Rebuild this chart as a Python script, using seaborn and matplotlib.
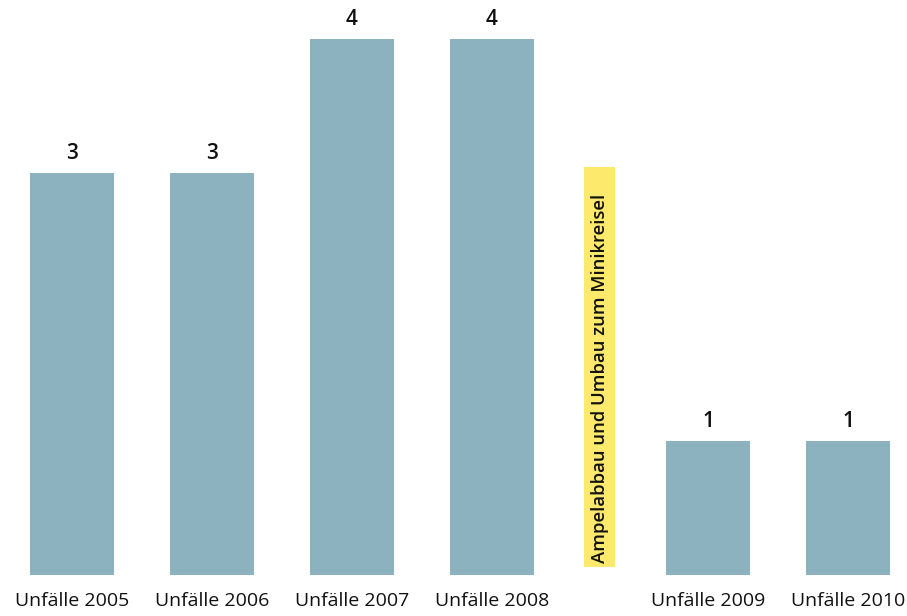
import matplotlib
matplotlib.use("Agg")
import matplotlib.pyplot as plt
import seaborn as sns
import pandas as pd
from matplotlib.patches import Rectangle

categories = ["Unfälle 2005", "Unfälle 2006", "Unfälle 2007", "Unfälle 2008", "Unfälle 2009", "Unfälle 2010"]
values = [3, 3, 4, 4, 1, 1]
note_text = "Ampelabbau und Umbau zum Minikreisel"

# layout positions (gap before the last two bars for the note)
x_pos = [0, 1, 2, 3, 4.543, 5.543]
note_x = 3.771

sns.set_theme(style="white")
plt.rcParams['font.family'] = ['Open Sans', 'DejaVu Sans']

df = pd.DataFrame({"cat": categories, "val": values, "pos": x_pos})

W, H = 907, 616
fig = plt.figure(figsize=(W / 100, H / 100), dpi=100)
base_px = 575
ax = fig.add_axes([0, (H - base_px) / H, 1, base_px / H])

bar_color = "#8CB1BF"
sns.barplot(data=df, x="pos", y="val", native_scale=True, width=0.6,
            color=bar_color, saturation=1, ax=ax, errorbar=None, linewidth=0)

px_per_unit = 134
xmin = -72 / 140
ax.set_xlim(xmin, xmin + W / 140)
ax.set_ylim(0, base_px / px_per_unit)

for x, v in zip(x_pos, values):
    ax.text(x, v + 0.07, str(v), ha="center", va="bottom", fontsize=15,
            fontweight="semibold", color="#111111")

# yellow note band
band_w = 31 / 140
band_bottom = 8 / px_per_unit
band_top = (base_px - 167) / px_per_unit
ax.add_patch(Rectangle((note_x - band_w / 2, band_bottom), band_w, band_top - band_bottom,
                       facecolor="#FDE96B", edgecolor="none", zorder=3))
ax.text(note_x, band_bottom + 4 / px_per_unit, note_text, rotation=90, ha="center",
        va="bottom", fontsize=13.3, fontweight="semibold", color="#111111", zorder=4)

ax.set_xticks(x_pos)
ax.set_xticklabels(categories, fontsize=14, color="#111111")
ax.tick_params(axis="x", length=0, pad=12)
ax.set_yticks([])
ax.set_xlabel("")
ax.set_ylabel("")
for s in ax.spines.values():
    s.set_visible(False)

fig.savefig("out.png", dpi=100)
